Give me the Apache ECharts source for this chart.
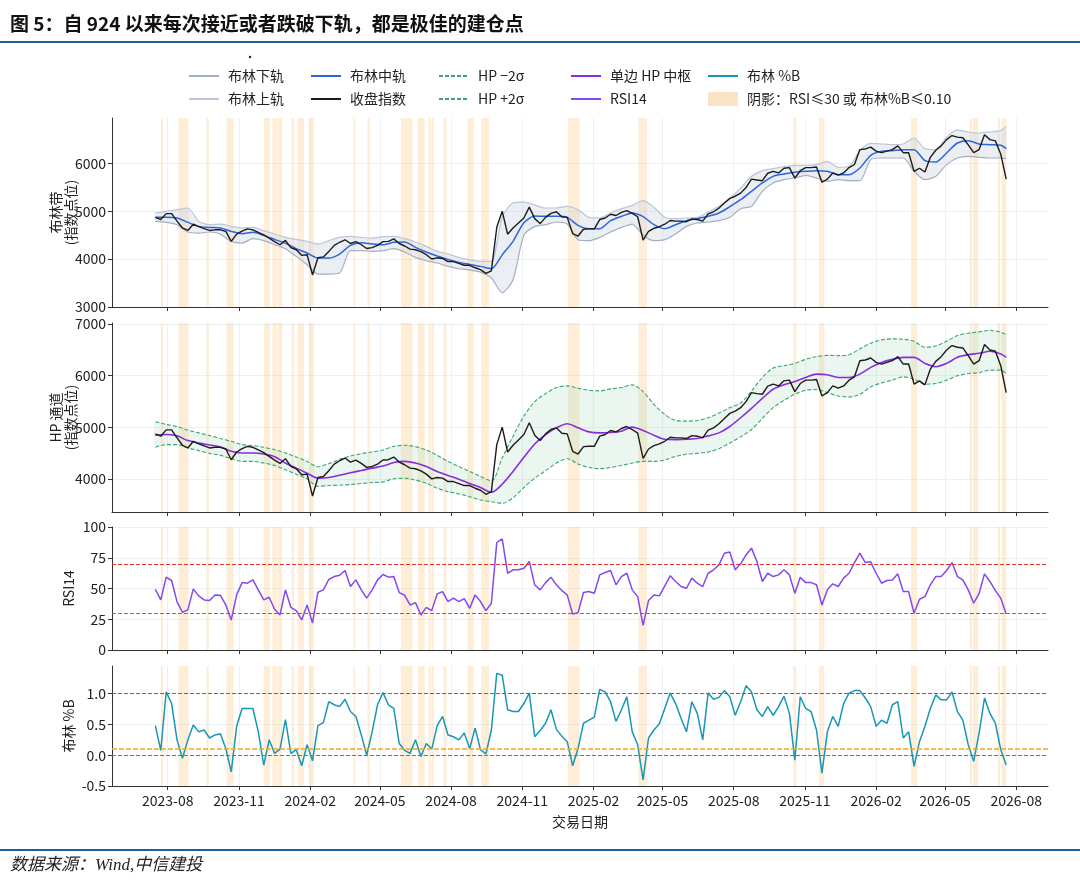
<!DOCTYPE html>
<html>
<head>
<meta charset="UTF-8">
<title>自924以来每次接近或者跌破下轨</title>
<script src="https://cdn.jsdelivr.net/npm/echarts@6/dist/echarts.min.js"></script>
<style>
  html, body { margin: 0; padding: 0; background: #fff; }
  #chart { width: 1080px; height: 888px; }
</style>
</head>
<body>
<div id="chart"></div>
<script>
// 周度采样，从 2023-07-16 起每 7 天一个点
var START = [2023, 6, 16];

// 收盘指数（周度）
var closeIdx = [
  4873,4828,4951,4951,4795,4652,4600,4730,4678,4639,
  4600,4613,4613,4580,4372,4522,4587,4632,4613,4561,
  4509,4437,4366,4301,4392,4242,4197,4080,4093,3670,
  4028,4047,4158,4288,4353,4405,4327,4366,4301,4223,
  4242,4288,4366,4372,4424,4327,4275,4210,4197,4158,
  4093,4002,4028,4015,3950,3950,3911,3872,3872,3820,
  3781,3703,3755,4665,5003,4522,4652,4756,4860,5088,
  4847,4743,4873,4957,4990,4886,4873,4535,4483,4626,
  4632,4632,4828,
  4860,4938,4912,4977,5016,4957,4886,4400,4580,4645,
  4678,4730,4808,4795,4795,4782,4840,4828,4795,4945,
  4990,5068,5172,5270,5315,5380,5497,5672,5653,5640,
  5796,5835,5802,5900,5913,5692,5848,5913,5913,5926,
  5607,5672,5802,5757,5802,5913,5978,6290,6303,6342,
  6257,6225,6257,6290,6368,6225,6225,5835,5900,5822,
  6128,6277,6368,6498,6583,6550,6537,6387,6225,6290,
  6602,6498,6472,6192,5673
];

// RSI14（周度）
var rsi14 = [
  49.4,40.7,59.2,56.5,39.1,30.7,32.6,49.7,44,40.7,
  40.2,44.8,44.5,36.6,24.4,44.8,54.8,54.3,57,48.9,
  40.7,42.9,33.1,28.5,48.9,34.7,32,24.4,36.6,22,
  47,48.9,57.3,59.7,60.8,64.6,51.6,57,48.9,42.1,
  48.9,57,61.4,59.2,59.7,46.7,44.5,36.6,38.5,28.5,
  34.7,32,45.6,47.5,39.4,42.1,39.4,41.8,33.9,44.8,
  39.4,32,38,87.4,90.4,62.4,65.2,65.2,66.5,72,
  53,48.9,54.8,59.2,53,48.3,44.8,29.3,30.4,46.7,
  47.5,46.1,61.1,
  63,64.6,53,59.7,62.4,48.9,43.4,20,40.2,44.8,
  44,52.1,60.3,55.7,51.6,50.2,58.4,54.3,51.6,62.4,
  65.2,69.2,78.7,79.6,65.2,70.1,77.4,82.8,72,55.7,
  62.4,59.7,61.1,65.2,61.1,46.1,59.2,54.8,54.8,53,
  36.6,48.9,53.8,51.6,58.4,62.4,71.1,78.7,71.1,71.7,
  62.4,54.3,56.5,57,61.9,47.5,47.5,29.9,41.3,43.4,
  53,59.7,59.7,64.6,71.1,59.7,57,48.9,38,46.1,
  61.9,55.7,48.3,42.1,29.3
];

// 布林 %B（周度）
var pctB = [
  0.48,0.08,1.03,0.84,0.25,-0.05,0.25,0.49,0.38,0.41,
  0.28,0.33,0.35,0.11,-0.27,0.47,0.76,0.76,0.76,0.38,
  -0.16,0.25,0.03,0.1,0.58,0.03,0.09,-0.17,0.17,-0.09,
  0.48,0.53,0.87,0.82,0.79,0.91,0.71,0.63,0.33,0.0,
  0.38,0.82,1.02,0.82,0.76,0.19,0.08,0.03,0.25,-0.02,
  0.19,0.1,0.48,0.63,0.33,0.3,0.25,0.36,0.11,0.44,
  0.09,0.02,0.41,1.33,1.3,0.74,0.71,0.71,0.84,1.01,
  0.3,0.4,0.52,0.74,0.42,0.31,0.22,-0.17,0.11,0.52,
  0.57,0.62,1.07,
  1.03,0.87,0.55,0.74,0.95,0.38,0.17,-0.4,0.28,0.41,
  0.51,0.76,1.01,0.84,0.6,0.38,0.87,0.68,0.25,1.01,
  0.91,0.94,1.05,0.95,0.65,0.87,1.13,1.03,0.74,0.63,
  0.79,0.65,0.79,0.96,0.68,-0.08,0.95,0.76,0.71,0.41,
  -0.29,0.38,0.63,0.47,0.84,1.01,1.05,1.05,0.93,0.79,
  0.47,0.57,0.52,0.82,0.87,0.28,0.38,-0.18,0.22,0.47,
  0.76,0.98,0.9,0.9,1.03,0.71,0.57,0.17,-0.1,0.36,
  0.93,0.68,0.52,0.09,-0.16
];

// 通道类（双周采样 + 末点）
var bbMid = [
  4874,4874,4860,4769,4685,4664,4650,4581,4532,4560,
  4497,4414,4330,4218,4128,4023,4023,4107,4288,4344,
  4316,4302,4351,4358,4246,4149,4065,3995,3933,3891,
  3849,3800,4090,4372,4760,4900,4895,4895,4874,4706,
  4637,4637,
  4804,4895,4964,4888,4720,4637,4720,4804,4846,4895,
  4964,5097,5243,5417,5592,5731,5780,5815,5835,5849,
  5835,5766,5766,5905,6170,6254,6268,6288,6288,6058,
  6030,6219,6428,6477,6407,6393,6379,
  6310
];
var bbUp = [
  4964,4999,5034,5069,4790,4720,4734,4685,4650,4664,
  4595,4525,4455,4414,4372,4316,4386,4455,4476,4455,
  4441,4469,4476,4428,4358,4267,4163,4107,4037,3988,
  3953,3953,4880,5173,5190,5130,5069,5069,5104,5034,
  4874,4860,
  4964,5055,5124,5222,5083,4874,4846,4860,4874,4985,
  5104,5264,5487,5731,5849,5891,5933,5961,5961,5975,
  6045,5919,5940,6268,6421,6407,6393,6407,6532,6309,
  6288,6546,6700,6658,6637,6658,6686,
  6776
];
var bbLow = [
  4790,4769,4720,4567,4546,4567,4525,4372,4337,4428,
  4386,4302,4218,4058,3884,3689,3689,3710,4177,4177,
  4163,4177,4218,4149,4037,3967,3919,3849,3800,3772,
  3730,3605,3300,3570,4500,4680,4720,4776,4734,4407,
  4386,4455,
  4567,4664,4734,4500,4386,4407,4525,4685,4755,4776,
  4804,4874,5055,5104,5417,5592,5661,5696,5752,5696,
  5626,5661,5640,5640,6080,6114,6114,6114,5835,5661,
  5731,5975,6114,6149,6128,6114,6114,
  6100
];
var hpMid = [
  4847,4860,4834,4743,4697,4658,4620,4535,4502,4502,
  4483,4431,4308,4210,4112,4015,4028,4073,4119,4164,
  4210,4249,4320,4340,4308,4242,4145,4067,3996,3911,
  3833,3742,3898,4145,4418,4678,4860,4990,5068,4990,
  4912,4892,
  4899,4925,5003,4938,4847,4769,4762,4769,4782,4834,
  4892,5016,5185,5367,5562,5737,5822,5887,5965,6030,
  6017,5965,5965,6030,6160,6257,6316,6355,6355,6238,
  6173,6238,6355,6407,6433,6472,6420,
  6355
];
var hpUp = [
  5107,5055,5016,4944,4892,4840,4782,4730,4665,4645,
  4613,4567,4502,4425,4340,4236,4295,4379,4444,4490,
  4522,4561,4632,4652,4626,4561,4457,4340,4242,4145,
  4047,3963,4405,4828,5217,5497,5653,5770,5802,5757,
  5718,5705,
  5744,5770,5822,5692,5445,5250,5133,5120,5133,5185,
  5276,5380,5471,5705,5965,6147,6193,6238,6316,6368,
  6394,6388,6407,6518,6628,6693,6713,6706,6667,6550,
  6576,6667,6778,6823,6849,6875,6843,
  6797
];
var hpLow = [
  4613,4665,4665,4600,4548,4496,4457,4392,4340,4340,
  4308,4262,4178,4093,4002,3859,3872,3879,3892,3911,
  3930,3943,4002,4015,3976,3917,3820,3755,3710,3657,
  3592,3560,3527,3638,3833,4015,4158,4308,4392,4288,
  4223,4197,
  4223,4262,4308,4340,4340,4366,4437,4477,4496,4522,
  4587,4697,4815,4957,5172,5380,5523,5640,5718,5731,
  5672,5607,5588,5640,5783,5861,5913,5978,5932,5835,
  5848,5913,5997,6043,6056,6108,6108,
  6043
];

// 阴影区间：RSI≤30 或 布林%B≤0.10
var shadeRanges = [
  ['2023-07-23','2023-07-25'], ['2023-08-15','2023-08-27'], ['2023-09-20','2023-09-22'],
  ['2023-10-16','2023-10-24'], ['2023-12-03','2023-12-10'], ['2023-12-14','2023-12-19'],
  ['2023-12-21','2023-12-26'], ['2024-01-08','2024-01-10'], ['2024-01-16','2024-01-23'],
  ['2024-01-30','2024-02-05'], ['2024-03-28','2024-03-29'], ['2024-04-15','2024-04-17'],
  ['2024-05-28','2024-06-11'], ['2024-06-19','2024-06-27'], ['2024-07-03','2024-07-05'],
  ['2024-07-07','2024-07-09'], ['2024-07-22','2024-07-25'], ['2024-08-22','2024-08-29'],
  ['2024-09-09','2024-09-18'], ['2024-12-30','2025-01-13'], ['2025-03-31','2025-04-10'],
  ['2025-10-17','2025-10-20'], ['2025-11-19','2025-11-25'], ['2026-03-18','2026-03-25'],
  ['2026-06-02','2026-06-04'], ['2026-06-06','2026-06-09'], ['2026-06-10','2026-06-12'],
  ['2026-07-08','2026-07-10'], ['2026-07-13','2026-07-18']
];

var xTickLabels = ['2023-08','2023-11','2024-02','2024-05','2024-08','2024-11','2025-02',
                   '2025-05','2025-08','2025-11','2026-02','2026-05','2026-08'];
var bbTicks = [3000, 4000, 5000, 6000];
var hpTicks = [4000, 5000, 6000, 7000];
var rsiTicks = [0, 25, 50, 75, 100];
var pctBTicks = [-0.5, 0, 0.5, 1.0];

var SHADE = '阴影：RSI≤30 或 布林%B≤0.10';
var FONT = '"Noto Sans CJK SC", "Noto Sans", sans-serif';

function ts(s) {
  var p = s.split('-');
  return new Date(+p[0], +p[1] - 1, p[2] ? +p[2] : 1).getTime();
}
var dates = closeIdx.map(function (v, k) {
  return new Date(START[0], START[1], START[2] + 7 * k).getTime();
});
var bandDates = [];
for (var k = 0; k < dates.length; k += 2) bandDates.push(dates[k]);
if ((dates.length - 1) % 2 === 1) bandDates.push(dates[dates.length - 1]);

function pair(ds, vs) { return vs.map(function (v, i) { return [ds[i], v]; }); }

var xTicks = xTickLabels.map(ts);
var xMin = ts('2023-05-21'), xMax = ts('2026-09-11');

var shadeData = shadeRanges.map(function (r) {
  return [{ xAxis: ts(r[0]) }, { xAxis: ts(r[1]) + 86400000 }];
});

function shadeSeries(i) {
  return {
    name: SHADE, type: 'line', xAxisIndex: i, yAxisIndex: i, data: [], z: 1, silent: true,
    markArea: { silent: true, itemStyle: { color: 'rgba(250,170,60,0.2)' }, data: shadeData }
  };
}

// 上下轨之间的填充，用坐标系换算后画成多边形
function bandSeries(i, low, up, color, smooth) {
  return {
    type: 'custom', xAxisIndex: i, yAxisIndex: i, silent: true, z: 2, clip: true,
    data: [[bandDates[0], low[0]]],
    renderItem: function (params, api) {
      var pts = [], n;
      for (n = 0; n < up.length; n++) pts.push(api.coord([bandDates[n], up[n]]));
      for (n = low.length - 1; n >= 0; n--) pts.push(api.coord([bandDates[n], low[n]]));
      return { type: 'polygon', shape: { points: pts, smooth: smooth }, style: { fill: color } };
    }
  };
}

function monthLabel(v) {
  var d = new Date(v);
  var m = d.getMonth() + 1;
  return d.getFullYear() + '-' + (m < 10 ? '0' + m : m);
}

function xAxisOf(i) {
  return {
    type: 'value', gridIndex: i, min: xMin, max: xMax,
    axisLine: { show: true, onZero: false, lineStyle: { color: '#333', width: 1 } },
    axisTick: { show: true, customValues: xTicks, length: 4, lineStyle: { color: '#333' } },
    axisLabel: {
      show: i === 3, customValues: xTicks, fontSize: 14, color: '#222', margin: 8, fontFamily: FONT,
      formatter: monthLabel
    },
    splitLine: { show: true, lineStyle: { color: '#edf0f5', width: 1 } },
    name: i === 3 ? '交易日期' : '', nameLocation: 'middle', nameGap: 29,
    nameTextStyle: { fontSize: 14, color: '#222', fontFamily: FONT }
  };
}

function yAxisOf(i, min, max, ticks, name, gap, fmt) {
  return {
    type: 'value', gridIndex: i, min: min, max: max,
    axisLine: { show: true, onZero: false, lineStyle: { color: '#333', width: 1 } },
    axisTick: { show: true, customValues: ticks, length: 4, lineStyle: { color: '#333' } },
    axisLabel: {
      customValues: ticks, fontSize: 14, color: '#222', margin: 6, fontFamily: FONT,
      formatter: fmt || function (v) { return String(v); }
    },
    splitLine: { show: true, lineStyle: { color: '#edf0f5', width: 1 } },
    name: name, nameLocation: 'middle', nameRotate: 90, nameGap: gap, nameMoveOverlap: false,
    nameTextStyle: { fontSize: 14, color: '#222', lineHeight: 15, fontFamily: FONT }
  };
}

function lineSeries(name, i, data, color, width, extra) {
  var s = {
    name: name, type: 'line', xAxisIndex: i, yAxisIndex: i, data: data,
    symbol: 'none', z: 3, silent: true,
    lineStyle: { color: color, width: width }, itemStyle: { color: color }
  };
  for (var key in extra) s[key] = extra[key];
  return s;
}

function legendCol(left, names) {
  return {
    left: left, top: 64, orient: 'vertical', itemGap: 9, itemWidth: 30, itemHeight: 14,
    selectedMode: false, data: names, itemStyle: { opacity: 0 },
    textStyle: { fontSize: 14, color: '#222', fontFamily: FONT, padding: [0, 0, 0, 4] }
  };
}

var hpDash = [4, 2];
var series = [
  shadeSeries(0), shadeSeries(1), shadeSeries(2), shadeSeries(3),
  bandSeries(0, bbLow, bbUp, 'rgba(205,212,224,0.4)', 0.25),
  bandSeries(1, hpLow, hpUp, 'rgba(160,215,180,0.22)', 0.3),

  lineSeries('布林下轨', 0, pair(bandDates, bbLow), '#a3b0c4', 1.2, { smooth: 0.25 }),
  lineSeries('布林上轨', 0, pair(bandDates, bbUp), '#bcc6d6', 1.2, { smooth: 0.25 }),
  lineSeries('布林中轨', 0, pair(bandDates, bbMid), '#2b66e0', 1.5, { smooth: 0.25 }),
  lineSeries('收盘指数', 0, pair(dates, closeIdx), '#1b1b1b', 1.4, { z: 4 }),

  lineSeries('HP −2σ', 1, pair(bandDates, hpLow), '#38a86c', 1.1,
    { smooth: 0.3, lineStyle: { color: '#38a86c', width: 1.1, type: hpDash } }),
  lineSeries('HP +2σ', 1, pair(bandDates, hpUp), '#38a86c', 1.1,
    { smooth: 0.3, lineStyle: { color: '#38a86c', width: 1.1, type: hpDash } }),
  lineSeries('单边 HP 中枢', 1, pair(bandDates, hpMid), '#8a2be2', 1.6, { smooth: 0.3 }),
  lineSeries('收盘指数', 1, pair(dates, closeIdx), '#1b1b1b', 1.4, { z: 4 }),

  lineSeries('RSI14', 2, pair(dates, rsi14), '#8348f0', 1.5, {
    markLine: {
      silent: true, symbol: 'none', label: { show: false },
      data: [
        { yAxis: 70, lineStyle: { color: '#e3342f', type: [4, 2], width: 1 } },
        { yAxis: 30, lineStyle: { color: '#2e9e5b', type: [4, 2], width: 1 } }
      ]
    }
  }),
  lineSeries('布林 %B', 3, pair(dates, pctB), '#1896b6', 1.5, {
    markLine: {
      silent: true, symbol: 'none', label: { show: false },
      data: [
        { yAxis: 1.0, lineStyle: { color: '#e3342f', type: [4, 2], width: 1 } },
        { yAxis: 0.1, lineStyle: { color: '#f5a623', type: [5, 2], width: 1.5 } },
        { yAxis: 0.0, lineStyle: { color: '#2e9e5b', type: [4, 2], width: 1 } }
      ]
    }
  })
];

var chart = echarts.init(document.getElementById('chart'), null, { renderer: 'canvas' });
chart.setOption({
  animation: false,
  backgroundColor: '#fff',
  textStyle: { fontFamily: FONT },
  grid: [
    { left: 112, right: 32, top: 118, height: 189, containLabel: false },
    { left: 112, right: 32, top: 323, height: 189, containLabel: false },
    { left: 112, right: 32, top: 527, height: 123, containLabel: false },
    { left: 112, right: 32, top: 666, height: 120, containLabel: false }
  ],
  legend: [
    legendCol(183, ['布林下轨', '布林上轨']),
    legendCol(305, ['布林中轨', '收盘指数']),
    legendCol(433, ['HP −2σ', 'HP +2σ']),
    legendCol(565, ['单边 HP 中枢', 'RSI14']),
    legendCol(702, ['布林 %B', { name: SHADE, icon: 'rect', itemStyle: { color: '#fbe4c6', opacity: 1 } }])
  ],
  xAxis: [xAxisOf(0), xAxisOf(1), xAxisOf(2), xAxisOf(3)],
  yAxis: [
    yAxisOf(0, 3000, 6950, bbTicks, '布林带\n(指数点位)', 34),
    yAxisOf(1, 3360, 7020, hpTicks, 'HP 通道\n(指数点位)', 34),
    yAxisOf(2, 0, 100, rsiTicks, 'RSI14', 36),
    yAxisOf(3, -0.5, 1.45, pctBTicks, '布林 %B', 36, function (v) { return v.toFixed(1); })
  ],
  series: series,
  graphic: [
    { type: 'text', left: 10, top: 14, style: {
      text: '图 5：自 924 以来每次接近或者跌破下轨，都是极佳的建仓点',
      font: 'bold 19px ' + FONT, fill: '#111' } },
    { type: 'line', shape: { x1: 0, y1: 42, x2: 1080, y2: 42 }, style: { stroke: '#1f5f9f', lineWidth: 2 } },
    { type: 'circle', shape: { cx: 250, cy: 57, r: 1.2 }, style: { fill: '#222' } },
    { type: 'line', shape: { x1: 0, y1: 850, x2: 1080, y2: 850 }, style: { stroke: '#1f5f9f', lineWidth: 2 } },
    { type: 'text', left: 10, top: 857, style: {
      text: '数据来源：Wind,中信建投',
      font: 'italic 17px "Liberation Serif", "Noto Sans CJK SC", serif', fill: '#222' } }
  ]
});
</script>
</body>
</html>
